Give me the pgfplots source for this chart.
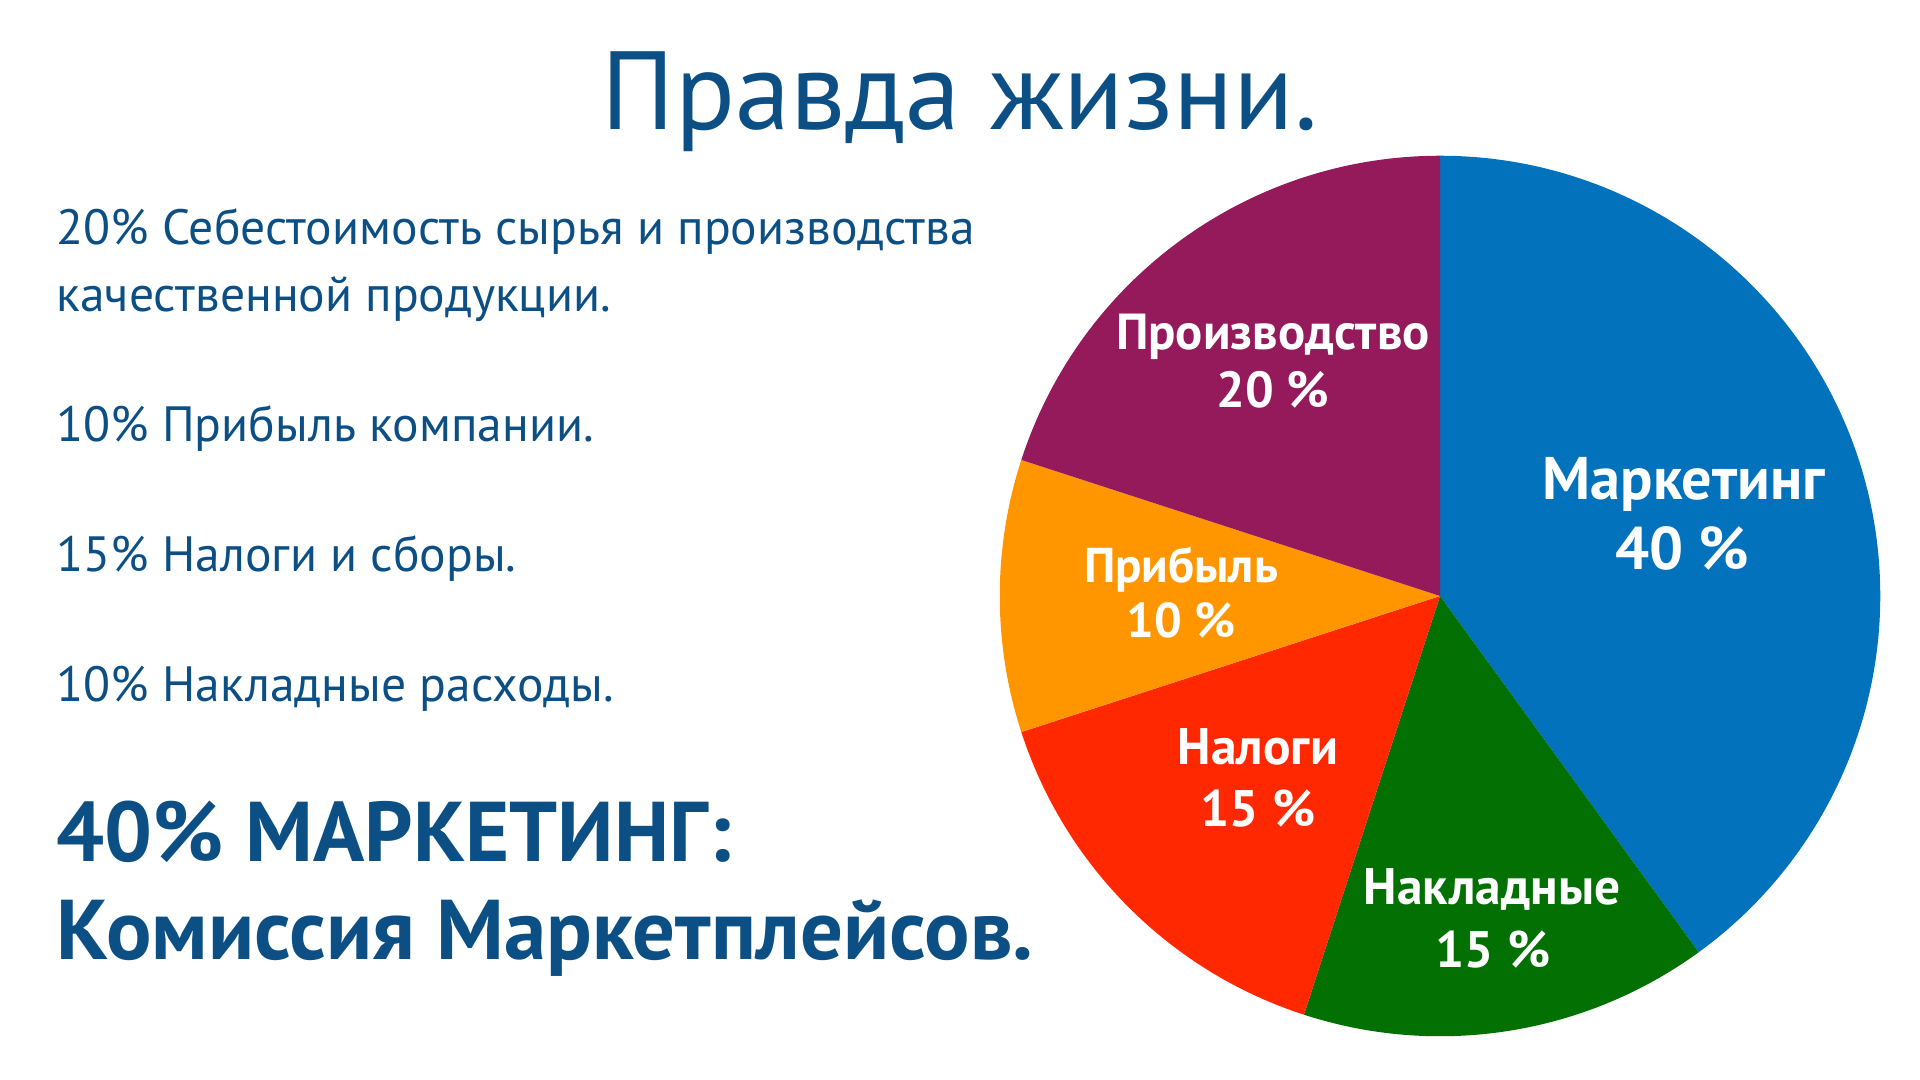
\documentclass[border=0pt]{standalone}
\usepackage{pgfplots}
\pgfplotsset{compat=1.18}
\usepackage{pgfplotstable}
\usepackage{fontspec}
\setmainfont{PT Sans}
\definecolor{txtblue}{RGB}{12,79,132}
\definecolor{cMark}{RGB}{3,114,189}
\definecolor{cNakl}{RGB}{2,112,2}
\definecolor{cNal}{RGB}{255,40,0}
\definecolor{cPrib}{RGB}{255,150,0}
\definecolor{cProiz}{RGB}{149,26,92}
% slice: #1 cumulative percent before slice, #2 percent, #3 colour
\newcommand{\slice}[3]{%
  \fill[#3] (axis cs:1440,484) -- ++({90-3.6*#1}:4.4cm)
    arc[start angle={90-3.6*#1}, delta angle={-3.6*#2}, radius=4.4cm] -- cycle;}
\newcommand{\fs}[1]{\fontsize{#1}{#1}\selectfont}
\begin{document}
\begin{tikzpicture}
\begin{axis}[x=0.01cm, y=0.01cm, xmin=0, xmax=1920, ymin=0, ymax=1080,
  hide axis, clip=false]
\path (axis cs:0,0) rectangle (axis cs:1920,1080);
% pie: Маркетинг 40, Накладные 15, Налоги 15, Прибыль 10, Производство 20
\slice{0}{40}{cMark}
\slice{40}{15}{cNakl}
\slice{55}{15}{cNal}
\slice{70}{10}{cPrib}
\slice{80}{20}{cProiz}
% title
\node[anchor=base, text=txtblue, font=\fs{31.6pt}] at (axis cs:960,950) {Правда жизни.};
% left text
\begin{scope}[every node/.style={anchor=base west, text=txtblue, inner sep=0pt, font=\fs{14.1pt}}]
\node at (axis cs:56,835) {20\% Себестоимость сырья и производства};
\node at (axis cs:56,768) {качественной продукции.};
\node at (axis cs:56,638) {10\% Прибыль компании.};
\node at (axis cs:56,508) {15\% Налоги и сборы.};
\node at (axis cs:56,378) {10\% Накладные расходы.};
\end{scope}
\node[anchor=base west, text=txtblue, inner sep=0pt, font=\bfseries\fs{24.1pt}] at (axis cs:56,218) {40\% МАРКЕТИНГ:};
\node[anchor=base west, text=txtblue, inner sep=0pt, font=\bfseries\fs{24.1pt}] at (axis cs:56,120) {Комиссия Маркетплейсов.};
% pie labels
\begin{scope}[every node/.style={anchor=base, text=white, inner sep=0pt}]
\node[font=\bfseries\fs{14.4pt}] at (axis cs:1273,730) {Производство};
\node[font=\bfseries\fs{14.4pt}] at (axis cs:1273,672) {20 \%};
\node[font=\bfseries\fs{13.9pt}] at (axis cs:1181,497) {Прибыль};
\node[font=\bfseries\fs{13.9pt}] at (axis cs:1181,442) {10 \%};
\node[font=\bfseries\fs{14.6pt}] at (axis cs:1258,315) {Налоги};
\node[font=\bfseries\fs{14.6pt}] at (axis cs:1258,253) {15 \%};
\node[font=\bfseries\fs{14.6pt}] at (axis cs:1492,175) {Накладные};
\node[font=\bfseries\fs{14.6pt}] at (axis cs:1493,112) {15 \%};
\node[font=\bfseries\fs{17.1pt}] at (axis cs:1684,580) {Маркетинг};
\node[font=\bfseries\fs{17.1pt}] at (axis cs:1682,510) {40 \%};
\end{scope}
\end{axis}
\end{tikzpicture}
\end{document}
